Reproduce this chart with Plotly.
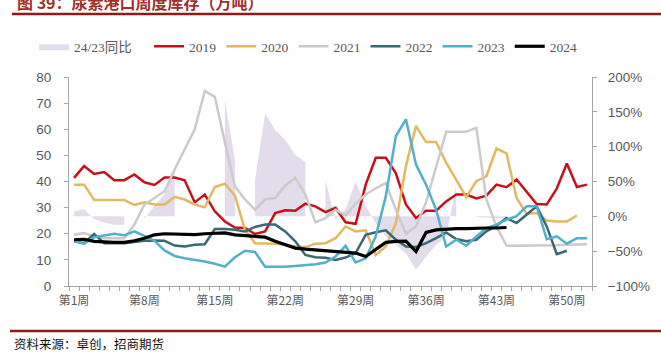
import plotly.graph_objects as go

weeks = list(range(1, 53))
tick_weeks = [1, 8, 15, 22, 29, 36, 43, 50]
tick_labels = ["第1周", "第8周", "第15周", "第22周", "第29周", "第36周", "第43周", "第50周"]

yoy_24_23 = [7, 10, -4, -9, -12, -12, None, -4, 15, 32, 71, None, None, None, None, 167, 81, None,
             52, 148, 124, 110, 88, 78, None, 52, -5, 10, 50, 15, -10, -29, -41, -53, -77, -58, -41,
             -29, 45, None, -1, -2, -3, -3, None, None, None, None, None, None, None, None]

s2019 = [41.4, 45.9, 42.9, 43.6, 40.5, 40.5, 42.7, 39.7, 38.7, 41.5, 41.5, 40.5, 32.0, 35.0, 28.6,
         24.7, 22.4, 22.2, 19.9, 20.9, 27.9, 29.0, 28.8, 31.5, 30.5, 28.3, 29.9, 24.4, 23.8, 38.8,
         49.1, 49.1, 43.1, 31.2, 26.0, 28.8, 28.8, 32.4, 35.0, 35.0, 33.5, 34.6, 38.8, 37.8, 40.8,
         35.9, 31.4, 31.2, 37.3, 46.9, 37.9, 38.8]
s2020 = [38.8, 38.8, 32.9, 32.9, 32.9, 32.9, 31.0, 32.0, 31.2, 31.2, 34.1, 33.1, 31.2, 30.1, 37.9,
         39.2, 34.6, 21.5, 16.4, 16.4, 16.2, 15.8, 15.1, 14.9, 16.2, 16.4, 18.3, 22.8, 20.9, 21.3,
         11.9, 15.1, 24.1, 45.9, 61.3, 55.1, 55.1, 47.2, 40.5, 34.0, 40.1, 42.0, 52.6, 50.8, 33.7,
         27.7, 27.9, 25.1, 24.7, 24.7, 27.0, None]
s2021 = [19.6, 20.3, 19.0, 18.3, 18.3, 18.3, 23.5, 31.2, 33.7, 36.3, 44.6, 52.3, 60.0, 74.7, 72.4,
         54.9, 38.2, 33.1, 29.2, 33.1, 33.7, 38.5, 41.4, 35.0, 24.4, 26.0, 29.2, 27.0, 31.5, 35.0,
         37.4, 39.4, 29.2, 20.0, 22.8, 32.0, 45.9, 59.0, 59.0, 59.0, 60.6, 33.1, 22.8, 15.4, 15.4,
         15.4, 15.4, 15.5, 15.6, 15.8, 16.0, 16.0]
s2022 = [17.1, 16.4, 19.9, 16.4, 16.4, 16.4, 16.8, 17.3, 17.4, 17.3, 15.5, 15.1, 15.8, 16.0, 21.8,
         21.8, 21.5, 20.9, 22.6, 23.5, 23.5, 20.9, 17.1, 11.9, 11.0, 10.8, 10.0, 10.9, 12.6, 19.6,
         20.6, 21.3, 17.7, 15.1, 14.9, 16.4, 18.3, 20.5, 18.0, 17.1, 17.7, 20.9, 23.1, 26.0, 24.1,
         27.3, 30.5, 22.8, 12.2, 13.5, None, None]
s2023 = [17.1, 16.2, 18.7, 19.4, 20.0, 19.4, 20.9, 19.2, 17.3, 13.6, 11.5, 10.6, 10.0, 9.4, 8.5,
         7.4, 11.0, 13.5, 13.0, 7.4, 7.4, 7.4, 7.7, 7.9, 8.3, 9.0, 11.3, 15.4, 9.0, 10.6,
         19.0, 34.4, 57.4, 63.8, 46.5, 38.8, 29.2, 15.1, 17.7, 15.4, 19.0, 22.2, 23.5, 25.4, 26.7,
         30.5, 30.5, 17.9, 19.0, 16.2, 18.3, 18.3]
s2024 = [17.7, 17.9, 17.1, 16.8, 16.7, 16.7, 17.3, 18.3, 19.6, 20.0, 19.9, 19.9, 19.7, 20.0, 20.0,
         20.3, 19.6, 19.2, 19.0, 18.7, 17.1, 15.8, 14.5, 14.1, 13.8, 13.4, 13.2, 12.9, 12.6, 11.3,
         14.0, 16.7, 17.1, 17.2, 13.2, 20.5, 21.5, 21.8, 22.0, 22.0, 22.2, 22.2, 22.2, 22.4,
         None, None, None, None, None, None, None, None]

series = [
    ("2019", s2019, "#c8101a", 2.5),
    ("2020", s2020, "#e3b862", 2.5),
    ("2021", s2021, "#cbcbcb", 2.5),
    ("2022", s2022, "#3a6875", 2.5),
    ("2023", s2023, "#52b0c9", 2.5),
    ("2024", s2024, "#000000", 3.2),
]

# split the YoY series into its contiguous runs so each run fills to zero on its own
segments = []
cur = []
for wk, v in zip(weeks, yoy_24_23):
    if v is None:
        if cur:
            segments.append(cur)
        cur = []
    else:
        cur.append((wk, v))
if cur:
    segments.append(cur)

fig = go.Figure()
# area on the base axis "y" (percent, right side) so it is drawn underneath the lines
for i, seg in enumerate(segments):
    fig.add_trace(go.Scatter(
        x=[p[0] for p in seg], y=[p[1] for p in seg], name="24/23同比", yaxis="y", mode="lines",
        line=dict(width=0, color="#e3dcea"), fill="tozeroy", fillcolor="#e3dcea",
        legendgroup="yoy", showlegend=(i == 0), legend="legend2", hoverinfo="skip"))
# lines on the overlaying axis "y2" (tonnes, left side)
for name, vals, color, w in series:
    fig.add_trace(go.Scatter(x=weeks, y=vals, name=name, mode="lines", yaxis="y2",
                             line=dict(color=color, width=w), connectgaps=False))

W, H = 661, 359
L, R, T, B = 69, 592, 77, 286
pw, ph = R - L, B - T


def px(x):
    return (x - L) / pw


def py(y):
    return (B - y) / ph


axis_col = "#a6a6a6"
tick_font = dict(family="Liberation Sans, Arial, sans-serif", size=13.5, color="#595959")
leg_font = dict(family="Liberation Serif, Noto Sans CJK SC, serif", size=13.5, color="#595959")

fig.update_layout(
    width=W, height=H,
    margin=dict(l=L, r=W - R, t=T, b=H - B),
    paper_bgcolor="white", plot_bgcolor="white",
    showlegend=True,
    legend=dict(orientation="h", x=px(149), xanchor="left", y=py(31), yanchor="top",
                font=leg_font, bgcolor="rgba(0,0,0,0)", itemwidth=30, traceorder="normal"),
    legend2=dict(orientation="h", x=px(34), xanchor="left", y=py(31), yanchor="top",
                 font=leg_font, bgcolor="rgba(0,0,0,0)", itemwidth=30),
    xaxis=dict(range=[0.5, 52.5], tickmode="array", tickvals=tick_weeks, ticktext=tick_labels,
               showgrid=False, zeroline=False, showline=True, linecolor=axis_col, linewidth=1,
               ticks="", ticklabelstandoff=4,
               tickfont=dict(family="Noto Sans CJK SC, sans-serif", size=12, color="#595959"),
               minor=dict(ticks="outside", tick0=0.5, dtick=1, ticklen=4, tickcolor=axis_col, showgrid=False)),
    yaxis=dict(range=[-100, 200], dtick=50, side="right", showgrid=False,
               zeroline=False, showline=True, linecolor=axis_col, linewidth=1, ticks="outside",
               ticklen=4, tickcolor=axis_col, ticksuffix="%", ticklabelstandoff=8, tickfont=tick_font),
    yaxis2=dict(range=[0, 80], dtick=10, overlaying="y", side="left", showgrid=False, zeroline=False,
                showline=True, linecolor=axis_col, linewidth=1, ticks="outside", ticklen=4,
                tickcolor=axis_col, ticklabelstandoff=10, tickfont=tick_font),
    shapes=[
        dict(type="line", xref="paper", yref="paper", x0=px(12), x1=px(661), y0=py(14), y1=py(14),
             line=dict(color="#8e1b1b", width=2.5)),
        dict(type="line", xref="paper", yref="paper", x0=px(10), x1=px(661), y0=py(331), y1=py(331),
             line=dict(color="#8e1b1b", width=2.5)),
    ],
    annotations=[
        dict(text="<b>图 39：尿素港口周度库存（万吨）</b>", xref="paper", yref="paper",
             x=px(15), y=py(2), xanchor="left", yanchor="middle", showarrow=False,
             font=dict(family="Noto Sans CJK SC, sans-serif", size=16, color="#a0302a")),
        dict(text="资料来源：卓创，招商期货", xref="paper", yref="paper",
             x=px(12), y=py(343), xanchor="left", yanchor="middle", showarrow=False,
             font=dict(family="Noto Sans CJK SC, sans-serif", size=12.5, color="#111111")),
    ],
)

fig.write_html("out.html", config={"displayModeBar": False},
               post_script="document.body.style.margin='0';document.body.style.overflow='hidden';")
